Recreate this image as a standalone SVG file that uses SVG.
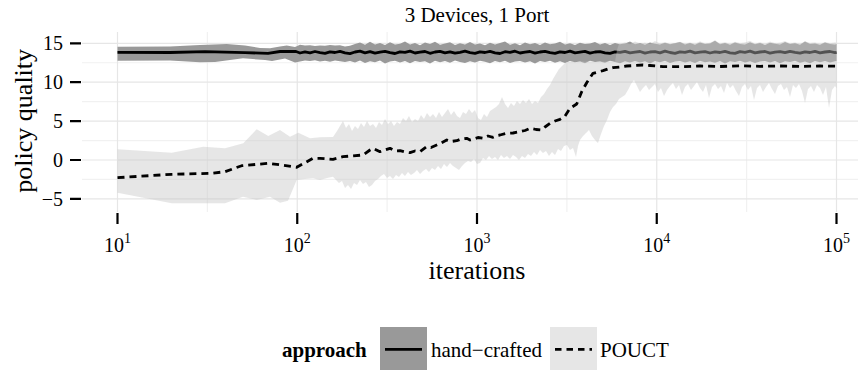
<svg xmlns="http://www.w3.org/2000/svg" width="858" height="370" viewBox="0 0 858 370">
<style>
.t{font-family:"Liberation Serif","Times New Roman",serif;fill:#000}
.gmaj{stroke:#e6e6e6;stroke-width:1.2;fill:none}
.gmin{stroke:#f1f1f1;stroke-width:1.2;fill:none}
.tick{stroke:#000;stroke-width:2.2}
.hcband{fill:#999999;stroke:none}
.pband{fill:#c4c4c4;fill-opacity:0.42;stroke:none}
.solid{fill:none;stroke:#000;stroke-width:2.8;stroke-linejoin:round}
.dash{fill:none;stroke:#000;stroke-width:2.8;stroke-dasharray:7 5;stroke-linejoin:round}
</style>
<rect width="858" height="370" fill="#fff"/>
<g id="grid">
<path class="gmin" d="M82,62.75H858M82,101.65H858M82,140.55H858M82,179.45H858M207.4,32V212M387.1,32V212M566.9,32V212M746.6,32V212"/>
<path class="gmaj" d="M82,43.3H858M82,82.2H858M82,121.1H858M82,160H858M82,198.9H858M117.5,32V212M297.25,32V212M477,32V212M656.75,32V212M836.5,32V212"/>
</g>
<text class="t" x="477" y="21.7" font-size="21" text-anchor="middle">3 Devices, 1 Port</text>
<g id="hand-crafted">
<path class="hcband" d="M117.5,46.7 L170,46.5 200,45 226.7,44 245,45.5 260,48 270,48.3 280,46.5 286.7,45.5 295,47 300,44.8 305,45.5 310,45.2 315,46 320,45.5 325,45.8 330,45 335,45.6 340,45.3 345,46.5 350,45.8 355,44 360,42.5 365,44.8 370,41.8 375,44.5 380,43 385,45 390,42.2 395,44.5 400,43.8 405,41.5 410,44.6 415,43 420,45.2 425,42.5 430,44 435,41.8 440,44.8 445,43.5 450,42.3 455,45 460,43.2 465,44.6 470,42 475,44.4 480,43.5 485,45.2 490,42.8 495,44.5 500,43 505,41.6 510,44.7 515,43.3 520,45.3 525,42.6 530,44.2 535,43 540,45 545,42.4 550,44.3 555,43.6 560,41.8 565,44.5 570,43.2 575,45 580,42.7 585,44 590,43.4 595,42 600,44.6 605,43.1 610,45 615,42.9 620,44.2 625,43.5 630,41.5 635,44.3 640,43 645,44.8 650,42.5 655,43.8 660,44.6 665,42.8 670,44.2 675,43.3 680,41.9 685,44.4 690,43 695,44.8 700,42.4 705,44 710,43.5 715,40.8 720,44.2 725,43 730,44.7 735,42.6 740,43.9 745,44.5 750,42.2 755,44.3 760,43.1 765,44.9 770,42.7 775,43.8 780,44.4 785,42 790,44.1 795,43.2 800,44.7 805,41.6 810,44 815,43.4 820,44.8 825,42.5 830,43.9 835,44.4 836.5,44 L836.5,61 835,61.2 830,62.5 825,60.9 820,62.2 815,61 810,63.3 805,61.4 800,62.7 795,60.8 790,62.1 785,61.3 780,63.2 775,61.1 770,62.4 765,60.9 760,61.5 755,63 750,61.2 745,62.6 740,60.7 735,62 730,61.3 725,63.4 720,61 715,62.8 710,61.4 705,62.3 700,60.8 695,63.1 690,61.2 685,62.5 680,60.9 675,61.5 670,62.9 665,60.8 660,62.2 655,61 650,63.5 645,61.3 640,62.6 635,60.9 630,62.4 625,61.2 620,63.3 615,61.9 610,60.7 605,62.8 600,61.4 595,62 590,60.8 585,63.2 580,61.5 575,62.2 570,60.9 565,63 560,61.3 555,62.7 550,60.8 545,62.1 540,61 535,63.6 530,61.2 525,62.5 520,60.9 515,61.4 510,62.9 505,60.7 500,62.2 495,61 490,63.3 485,61.7 480,60.8 475,62.4 470,61.2 465,63.1 460,61.9 455,60.6 450,62.8 445,61.1 440,62.3 435,60.7 430,63.5 425,61.3 420,62 415,60.9 410,63.2 405,61 400,62.6 395,60.8 390,61.5 385,63.4 380,60.6 375,62.2 370,61.2 365,63 360,60.5 355,62.5 350,61 345,62 340,61.2 335,60.6 330,61.8 325,60.8 320,61.5 315,60.3 310,61 305,60.5 300,61.5 295,62.5 285,58.5 272,61 265,60 243,58.3 215,62 200,62.3 170,60.5 117.5,60.7 Z"/>
<path class="solid" d="M117.5,52.3 L170,52.5 205,51.6 245,52.7 268,53.3 280,51.5 296,51.5 300,53 305,51.8 310,52.8 315,51.5 320,52.6 325,53.4 330,51.9 335,52.5 340,51.4 345,52.9 350,53.6 355,52 360,51.2 365,52.8 370,51.6 375,53.2 380,52.1 385,51.3 390,52.7 395,53.5 400,51.8 405,52.4 410,51.1 415,53 420,52.2 425,51.5 430,53.3 435,52 440,51.4 445,52.9 450,51.8 455,53.1 460,52.3 465,51.2 470,52.6 475,53.4 480,51.9 485,52.5 490,51.3 495,52.8 500,53.5 505,51.7 510,52.4 515,51.2 520,53 525,52.1 530,51.5 535,53.2 540,52 545,51.4 550,52.7 555,53.3 560,51.8 565,52.5 570,51.1 575,52.9 580,52.2 585,51.4 590,53.1 595,52 600,51.6 605,52.8 610,53.4 615,51.9 620,52.4 625,51.3 630,52.9 635,52.1 640,51.5 645,53.2 650,52 655,51.7 660,52.8 665,51.2 670,52.5 675,53.3 680,51.8 685,52.3 690,51.1 695,52.9 700,52.2 705,51.6 710,53 715,51.9 720,52.5 725,51.3 730,52.8 735,53.4 740,51.7 745,52.3 750,51.2 755,52.9 760,52 765,51.5 770,53.1 775,52.1 780,51.6 785,52.7 790,51.3 795,52.4 800,53.2 805,51.8 810,52.5 815,51.4 820,52.9 825,52 830,51.5 835,52.6 836.5,52.3"/>
</g>
<g id="pouct">
<path class="pband" d="M117.5,149.3 L171.7,152.7 203.3,146.7 225,148.3 243.3,143.3 256.7,129.3 268.3,136 280,130 290,136.7 298.3,132.7 310,138.3 320,137.3 333,137 337,131 340,126 343,121 346,128 349,124 352,131 355,126 358,129 361,123 364,127 367,121 370,126 373,124 376,128 379,122 382,125 385,119 388,124 391,121 394,126 397,122 400,124 403,118 406,121 409,116 412,122 415,119 418,121 421,115 424,119 427,113 430,117 433,114 436,118 439,112 442,117 445,113 448,109 451,115 454,111 457,116 460,118 463,112 466,114 469,109 472,113 475,110 478,118 481,120 484,114 487,117 490,111 493,109 496,107 499,104 502,97 505,104 508,108 511,103 514,106 517,101 520,104 523,100 526,103 529,99 532,104 535,101 538,103 541,97 544,94 547,89 550,85 553,79 556,74 559,69 562,66 565,63 568,62 572,61.5 576,62.2 580,61 585,61.8 590,61.2 595,62 600,61.3 605,61.8 610,61 615,61.5 617,50 619,43.5 620,43.8 625,42.5 630,44.2 635,41.5 640,43.6 645,42.8 650,44 655,41 660,43.5 665,42.3 670,44.1 675,42.9 680,41.7 685,43.8 690,42.4 695,44 700,41.2 705,43.4 710,42.8 715,40.2 720,43.6 725,42.2 730,44 735,41.8 740,43.3 745,42.6 750,40.8 755,43.7 760,42.3 765,44 770,41.6 775,43.2 780,42.7 785,41 790,43.5 795,42.4 800,43.9 805,41.3 810,43.1 815,42.5 820,44 825,41.9 830,43.2 835,42.6 836.5,43 L836.5,88 835,86 832,90 829,108 826,87 823,95 820,88 817,85 814,92 811,86 808,89 805,103 802,91 799,84 796,88 793,85 790,97 787,87 784,90 781,84 778,86 775,94 772,89 769,83 766,87 763,92 760,85 757,88 754,100 751,86 748,90 745,84 742,87 739,96 736,91 733,85 730,88 727,83 724,93 721,86 718,89 715,84 712,87 709,98 706,85 703,92 700,88 697,82 694,86 691,90 688,84 685,87 682,95 679,85 676,89 673,83 670,86 667,90 664,96 661,88 658,92 655,84 652,87 649,90 646,85 643,88 640,92 637,86 634,80 631,84 628,90 625,95 622,97 619,99 616,104 613,107 610,112 607,120 604,126 601,134 598,143 595,140 592,136 589,130 586,133 583,136 580,140 578,146 576,157 573,148 570,150 567,145 564,146 561,151 558,149 555,155 552,152 549,156 546,151 543,153 540,150 537,155 534,152 531,156 528,154 525,158 522,156 519,160 516,157 513,155 510,159 507,156 504,158 501,155 498,160 495,157 492,159 489,156 486,160 483,158 480,163 477,164 474,159 471,162 468,161 465,163 462,166 459,170 456,168 453,166 450,163 447,167 444,164 441,169 438,166 435,170 432,168 429,172 426,169 423,171 420,174 417,170 414,173 411,175 408,172 405,176 402,173 399,177 396,175 393,179 390,176 387,178 384,174 381,176 378,179 375,181 372,185 369,187 366,182 363,184 360,180 357,185 354,183 351,189 348,185 345,188 342,181 339,183 336,180 333,176.7 327,178 320,180 313,178.3 305,179 296.7,180 288,200.7 280,202.7 270,196.7 256.7,200 243,196.7 225,203.3 171.7,203.3 117.5,192.7 Z"/>
<path class="dash" d="M117.5,177.7 L171.7,174.3 211.7,173.3 225,171.7 241.7,165.7 268.3,163.3 281.7,165 296.7,167.3 313,158.3 320,158.3 333,159.3 343,156.7 363,155 370,150 373,148.3 380,151.7 385,150 390,148.3 395,151 400,150.7 405,152 410,152.7 415,151 420,151.7 426.7,146.7 431,147.5 436.7,145 441,143 446.7,140 451,141.5 456.7,140.7 461,139 466.7,138.3 470,140 473,139.3 478,137.5 483,138.3 488,136 493,137.3 497,135.5 500,135 506.7,133.3 513,133 520,131.7 525,130.5 530,128.3 536,129.5 541.7,130 545,127 550,123.3 555,121 560,119.3 565,116 570,108.3 576.7,104 581.7,91.7 586.7,82.7 593,73.3 598,72 603,70.7 608,69 613,67.7 620,67 626.7,66 635,65.5 643,65 650,65.5 663,66.7 680,66.7 700,66 720,66.5 740,65.8 760,66.3 780,66 800,66.4 820,66 836.5,66.2"/>
</g>
<g id="y-axis">
<path class="tick" d="M70,43.3H81M70,82.2H81M70,121.1H81M70,160H81M70,198.9H81"/>
<g class="t" font-size="20" text-anchor="end">
<text x="63" y="50.1">15</text>
<text x="63" y="89">10</text>
<text x="63" y="127.9">5</text>
<text x="63" y="166.8">0</text>
<text x="63" y="205.7">−5</text>
</g>
<text class="t" font-size="26" text-anchor="middle" transform="translate(32,120.8) rotate(-90)">policy quality</text>
</g>
<g id="x-axis">
<path class="tick" d="M117.5,213V224M297.25,213V224M477,213V224M656.75,213V224M836.5,213V224"/>
<g class="t" font-size="20" text-anchor="middle">
<text x="117.5" y="251.7">10<tspan dy="-8.4" font-size="14">1</tspan></text>
<text x="297.25" y="251.7">10<tspan dy="-8.4" font-size="14">2</tspan></text>
<text x="477" y="251.7">10<tspan dy="-8.4" font-size="14">3</tspan></text>
<text x="656.75" y="251.7">10<tspan dy="-8.4" font-size="14">4</tspan></text>
<text x="836.5" y="251.7">10<tspan dy="-8.4" font-size="14">5</tspan></text>
</g>
<text class="t" x="477" y="279.3" font-size="26" text-anchor="middle">iterations</text>
</g>
<g id="legend">
<text class="t" x="282" y="356.5" font-size="21" font-weight="bold">approach</text>
<g id="key-hand-crafted">
<rect x="380" y="327" width="47" height="43" fill="#999999"/>
<line x1="385" y1="349.3" x2="422" y2="349.3" stroke="#000" stroke-width="2.8"/>
<text class="t" x="431" y="356.5" font-size="21">hand−crafted</text>
</g>
<g id="key-pouct">
<rect x="550" y="327" width="47" height="43" fill="#e6e6e6"/>
<line x1="555" y1="349.3" x2="592" y2="349.3" stroke="#000" stroke-width="2.8" stroke-dasharray="6.5 5"/>
<text class="t" x="600" y="356.5" font-size="21">POUCT</text>
</g>
</g>
</svg>
